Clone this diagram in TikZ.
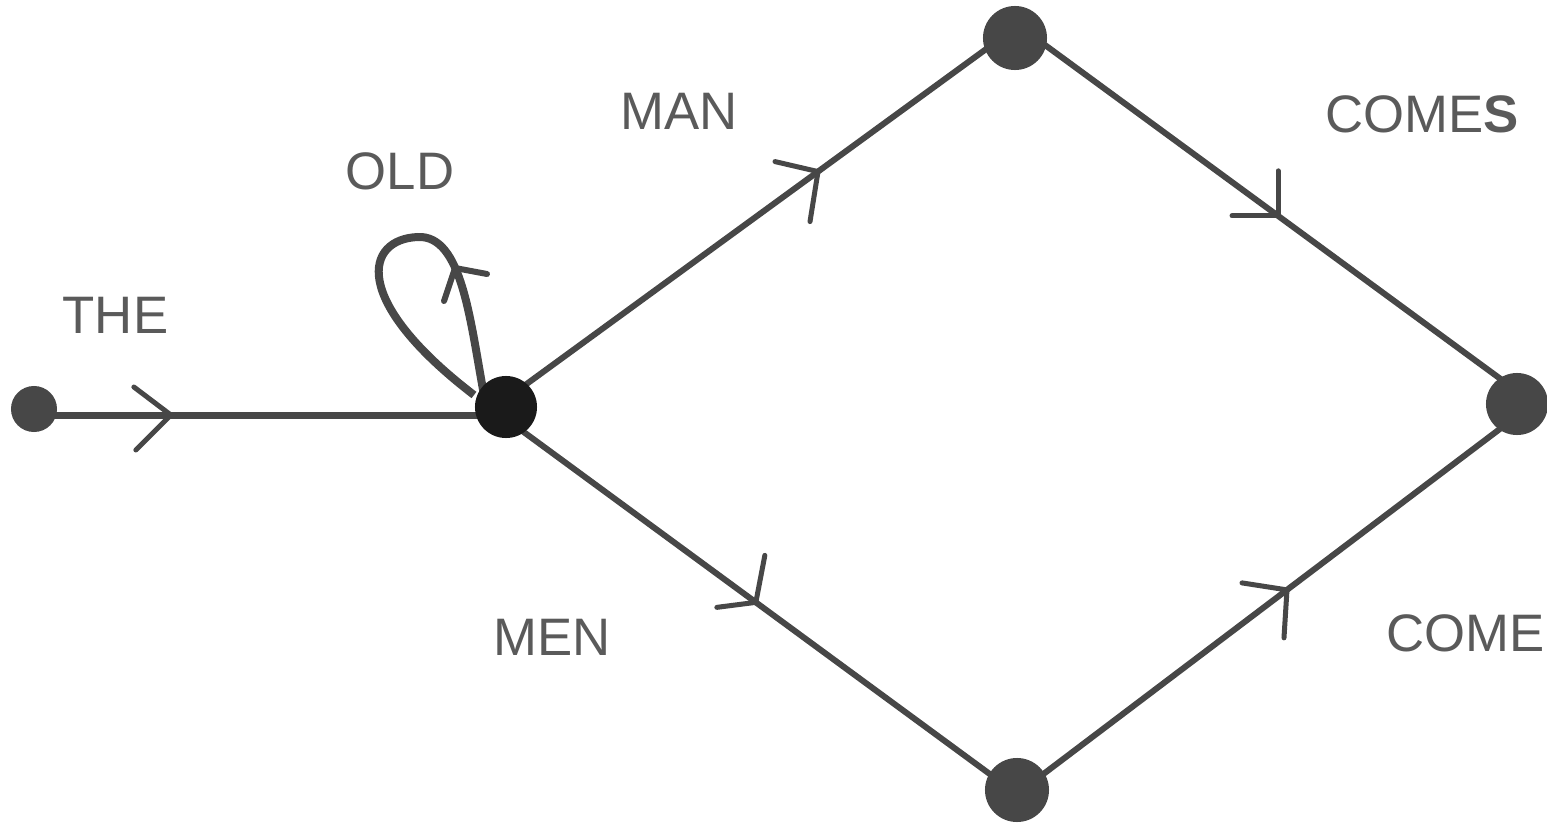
\documentclass[tikz,border=0pt]{standalone}
\usepackage{fontspec}
\setmainfont{Liberation Sans}
\usetikzlibrary{calc,decorations.markings,backgrounds}
\definecolor{ink}{HTML}{474747}
\definecolor{coreink}{HTML}{1A1A1A}
\definecolor{txt}{HTML}{5A5A5A}
\tikzset{
  stopdot/.style={circle,fill=ink,draw=none,inner sep=0pt,minimum size=#1},
  edge/.style={draw=ink,line width=0.06cm},
  armline/.style={draw=ink,line width=0.05cm,line cap=round,line join=round},
  arms/.style n args={3}{postaction={decorate},decoration={markings,
      mark=at position #1 with {\pgftransformresetnontranslations
        \draw[armline] (#2) -- (0,0) -- (#3);}}},
  lbl/.style={text=txt,font=\fontsize{15}{18}\selectfont,inner sep=0pt,anchor=west}
}
\begin{document}
\begin{tikzpicture}[x=0.01cm,y=-0.01cm]
\useasboundingbox (0,0) rectangle (1547,830);
% states
\node[stopdot=0.46cm] (s) at (34,409) {};
\node[stopdot=0.62cm,fill=coreink] (c) at (506,407) {};
\node[stopdot=0.64cm] (t) at (1015,38) {};
\node[stopdot=0.62cm] (r) at (1517,404) {};
\node[stopdot=0.64cm] (b) at (1017,790) {};
% labels
\node[lbl] (lthe) at (62,315) {THE};
\node[lbl] (lold) at (345,171) {OLD};
\node[lbl] (lman) at (620,111) {MAN};
\node[lbl] (lcomes) at (1325,114) {COME\textbf{S}};
\node[lbl] (lmen) at (493,637) {MEN};
\node[lbl,anchor=east] (lcome) at (1545,633) {COME};
% transitions
\begin{scope}[on background layer]
\draw[edge,line width=0.07cm,arms={0.29}{-37,-28}{-35,35}]
  ($(s.center)+(0,6)$) -- ($(c.center)+(0,8)$);
\draw[edge,arms={0.613}{-43,-10}{-8,50}]
  ($(c.center)+(0,-8)$) -- ($(t.center)+(0,-10)$);
\draw[edge,arms={0.524}{-46,0}{0,-45}]
  ($(t.center)+(0,-15)$) -- ($(r.center)+(0,-13)$);
\draw[edge,arms={0.489}{-39,5}{9,-47}]
  ($(c.center)+(0,12)$) -- ($(b.center)+(0,4)$);
\draw[edge,arms={0.54}{-45,-7}{-3,48}]
  ($(b.center)+(0,4)$) -- ($(r.center)+(0,12)$);
\begin{scope}[shift={(c.center)}]
\draw[edge,line width=0.08cm] (-22,-12) .. controls (-36,-87) and (-44,-172) .. (-88,-170)
  .. controls (-141,-168) and (-156,-107) .. (-32,-12);
\coordinate (looptip) at (-51,-139);
\draw[armline,line width=0.06cm] ($(looptip)+(-11,33)$) -- (looptip) -- ($(looptip)+(32,6)$);
\end{scope}
\end{scope}
\end{tikzpicture}
\end{document}
